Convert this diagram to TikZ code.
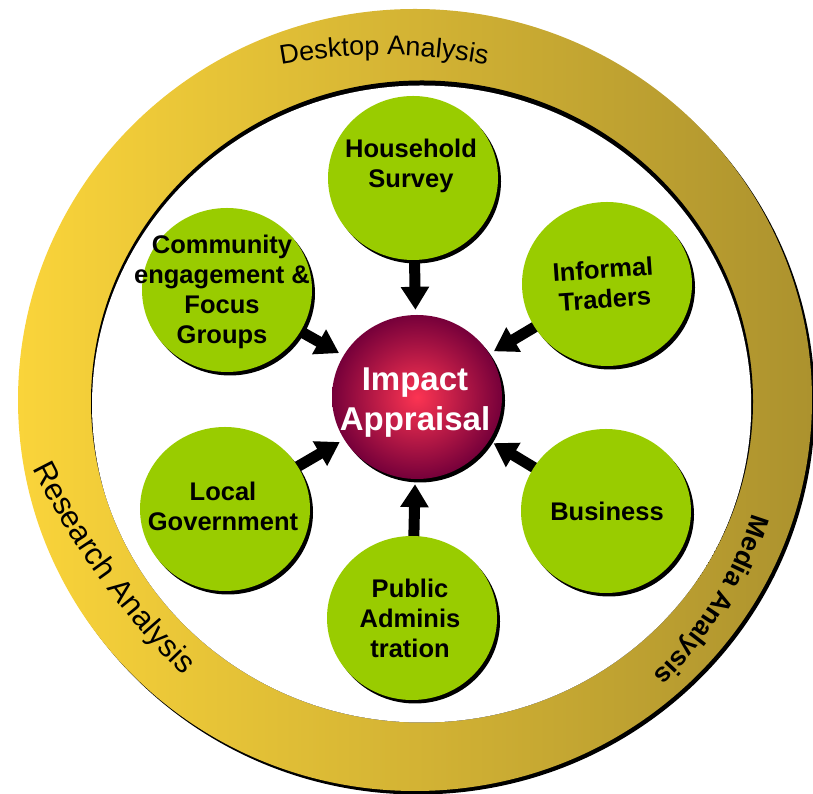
\documentclass[tikz,border=0pt]{standalone}
\usepackage{fontspec}
\setmainfont{Liberation Sans}
\usetikzlibrary{shapes.geometric,arrows.meta,decorations.text,shadows}
\pgfdeclarelayer{back}
\pgfdeclarelayer{links}
\pgfsetlayers{back,links,main}
\definecolor{ringL}{RGB}{250,212,58}
\definecolor{ringM}{RGB}{222,188,52}
\definecolor{ringR}{RGB}{172,146,46}
\definecolor{leaf}{RGB}{153,204,0}
\definecolor{impIn}{RGB}{252,52,82}
\definecolor{impOut}{RGB}{118,0,58}

\begin{document}
\begin{tikzpicture}[x=1pt,y=1pt,
  blob/.style={ellipse, minimum width=170pt, minimum height=164pt, inner sep=0pt,
    general shadow={fill=black, shadow xshift=3pt, shadow yshift=-3.5pt}},
  leafblob/.style={blob, fill=leaf},
  hubblob/.style={blob, inner color=impIn, outer color=impOut},
  leaftext/.style={align=center, inner sep=0pt, font=\bfseries\fontsize{25.5}{30}\selectfont},
  hubtext/.style={align=center, inner sep=0pt, text=white, font=\bfseries\fontsize{33}{40}\selectfont},
  feed/.style={line width=11pt, -{Triangle[width=27pt,length=23pt]}, shorten >=5pt, shorten <=-4pt},
  ringtext/.style={decorate, decoration={text along path, text align=center, text={#1}}}
]
\useasboundingbox (0,0) rectangle (813,794);

% outer ring with its shadow and the white inner field
\begin{pgfonlayer}{back}
  \fill[black] (418,390.5) ellipse [x radius=397, y radius=391];
  \shade[left color=ringL, middle color=ringM, right color=ringR]
    (415,394) ellipse [x radius=397, y radius=391];
  \fill[black] (422,392.5) ellipse [x radius=331, y radius=321];
  \begin{scope}
    \clip (422,392.5) ellipse [x radius=331, y radius=321];
    \fill[white] (421.6,389) ellipse [x radius=329.6, y radius=319.5];
  \end{scope}
\end{pgfonlayer}

% ring labels
\path[ringtext={|\fontsize{27}{30}\selectfont|Desktop Analysis}]
  (384,169) ++(105:570) arc[start angle=105, end angle=75, radius=570];
\path[ringtext={|\fontsize{31}{34}\selectfont|Research Analysis}]
  (727,672) ++(200:776) arc[start angle=200, end angle=232, radius=776];
\path[ringtext={|\bfseries\fontsize{26.5}{30}\selectfont|Media Analysis}]
  (394,389) ++(-9:374) arc[start angle=-9, end angle=-54, radius=374];

% hub and surrounding sources
\node[hubblob]  (imp) at (417,397) {};
\node[leafblob] (hs)  at (413,616) {};
\node[leafblob] (it)  at (607,510) {};
\node[leafblob] (bz)  at (606,283) {};
\node[leafblob] (pa)  at (412,176) {};
\node[leafblob] (lg)  at (225,285) {};
\node[leafblob] (ce)  at (227,504) {};

\node[hubtext]  (imp-t) at (415,391.3) {Impact\\Appraisal};
\node[leaftext] (hs-t) at (411,628) {Household\\Survey};
\node[leaftext, rotate=4] (it-t) at (604,510) {Informal\\Traders};
\node[leaftext] (bz-t) at (607,283) {Business};
\node[leaftext] (pa-t) at (410,175.5) {Public\\Adminis\\tration};
\node[leaftext] (lg-t) at (223,288) {Local\\Government};
\node[leaftext] (ce-t) at (222,502.5) {Community\\engagement \&\\Focus\\Groups};

% block arrows into the hub
\begin{pgfonlayer}{links}
  \foreach \s in {hs,it,bz,pa,lg,ce}
    \draw[feed] (\s) -- (imp);
\end{pgfonlayer}
\end{tikzpicture}
\end{document}
